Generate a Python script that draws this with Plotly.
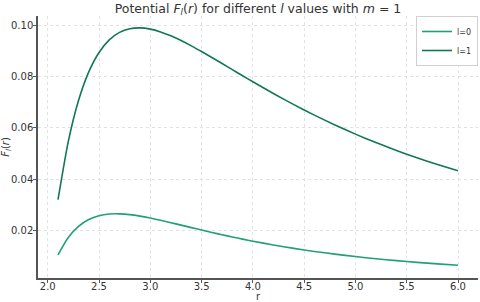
import plotly.graph_objects as go

r_vals = [2.1, 2.2, 2.3, 2.4, 2.5, 2.6, 2.7, 2.8, 2.9, 3.0,
          3.1, 3.2, 3.3, 3.4, 3.5, 3.6, 3.7, 3.8, 3.9, 4.0,
          4.2, 4.4, 4.6, 4.8, 5.0, 5.2, 5.4, 5.6, 5.8, 6.0]

f_l0 = [0.01028, 0.01708, 0.02144, 0.02411, 0.02560, 0.02626, 0.02634, 0.02603, 0.02545, 0.02469,
        0.02382, 0.02289, 0.02192, 0.02095, 0.01999, 0.01905, 0.01814, 0.01727, 0.01643, 0.01563,
        0.01414, 0.01281, 0.01161, 0.01055, 0.00960, 0.00875, 0.00800, 0.00732, 0.00672, 0.00617]

f_l1 = [0.03188, 0.05464, 0.07076, 0.08198, 0.08960, 0.09454, 0.09747, 0.09892, 0.09925, 0.09877,
        0.09767, 0.09613, 0.09427, 0.09219, 0.08996, 0.08764, 0.08527, 0.08287, 0.08049, 0.07813,
        0.07353, 0.06916, 0.06504, 0.06119, 0.05760, 0.05427, 0.05118, 0.04832, 0.04567, 0.04321]

series_names = ["l=0", "l=1"]
series_colors = ["#21a078", "#117852"]

x_ticks = [2.0, 2.5, 3.0, 3.5, 4.0, 4.5, 5.0, 5.5, 6.0]
y_ticks = [0.02, 0.04, 0.06, 0.08, 0.10]

font_family = "DejaVu Sans, Liberation Sans, sans-serif"
text_color = "#333333"

fig = go.Figure()
for name, ys, col in zip(series_names, [f_l0, f_l1], series_colors):
    fig.add_trace(go.Scatter(x=r_vals, y=ys, mode="lines", name=name,
                             line=dict(color=col, width=1.6, shape="spline", smoothing=0.6)))

axis_common = dict(
    showgrid=True, gridcolor="#e2e2e2", gridwidth=0.8, griddash="dot",
    ticks="outside", ticklen=3, tickcolor="#555555", tickwidth=1,
    showline=True, linecolor="#555555", linewidth=1.5,
    zeroline=False, tickfont=dict(size=10, color=text_color, family=font_family),
    automargin=False,
)

fig.update_layout(
    width=480, height=302,
    margin=dict(l=38, r=2, t=16, b=24),
    paper_bgcolor="white", plot_bgcolor="white",
    font=dict(family=font_family, color=text_color),
    title=dict(text="Potential <i>F<sub>l</sub></i>(<i>r</i>) for different <i>l</i> values with <i>m</i> = 1",
               x=0.5375, xanchor="center", y=0.972, yanchor="middle",
               font=dict(size=12.5, color=text_color, family=font_family)),
    xaxis=dict(range=[1.905, 6.195], tickvals=x_ticks, ticktext=[f"{v:.1f}" for v in x_ticks],
               ticklabelstandoff=-5,
               title=dict(text="r", font=dict(size=10, color=text_color), standoff=3),
               **axis_common),
    yaxis=dict(range=[0.0012, 0.1039], tickvals=y_ticks, ticktext=[f"{v:.2f}" for v in y_ticks],
               ticklabelstandoff=-2,
               title=dict(text="<i>F<sub>l</sub></i>(<i>r</i>)", font=dict(size=10, color=text_color), standoff=6),
               **axis_common),
    legend=dict(x=1.0, y=1.0, xanchor="right", yanchor="top",
                bgcolor="white", bordercolor="#d0d0d0", borderwidth=1,
                font=dict(size=8, color=text_color, family=font_family),
                itemwidth=30, tracegroupgap=0),
    showlegend=True,
)

fig.write_html("out.html", config={"displayModeBar": False},
               post_script="document.body.style.margin='0';document.body.style.padding='0';document.body.style.overflow='hidden';")
